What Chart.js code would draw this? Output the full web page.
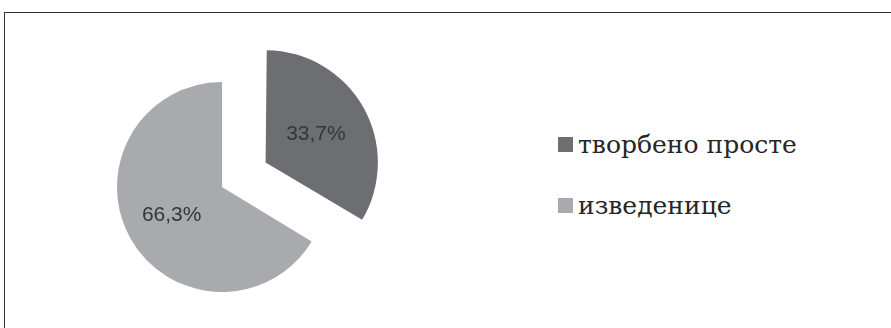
<!DOCTYPE html>
<html>
<head>
<meta charset="utf-8">
<script src="https://cdn.jsdelivr.net/npm/chart.js@4.4.1/dist/chart.umd.min.js"></script>
<style>
  html, body { margin: 0; padding: 0; background: #fff; overflow: hidden; }
  body { width: 891px; height: 328px; position: relative; }
  .frame { position: absolute; left: 4px; top: 12px; width: 900px; height: 330px; border-left: 1px solid #333; border-top: 1px solid #333; }
  .pie-wrap { position: absolute; left: 0; top: 0; width: 444px; height: 374px; }
  .legend { position: absolute; left: 558px; top: 114px; font-family: "DejaVu Serif", serif; font-size: 25px; color: #262626; }
  .legend div { display: flex; align-items: center; height: 61px; }
  .legend span.box { width: 15px; height: 15px; margin-right: 5px; }
</style>
</head>
<body>
<div class="frame"></div>
<div class="pie-wrap"><canvas id="pie" width="444" height="374"></canvas></div>
<div class="legend" id="legend"></div>
<script>
const labels = ['творбено просте', 'изведенице'];
const shares = [33.7, 66.3];
const sliceColors = ['#6d6e71', '#a9aaae'];

// percent labels drawn inside each slice, following the slice offset
const sliceLabels = {
  id: 'sliceLabels',
  afterDatasetsDraw(chart) {
    const ctx = chart.ctx;
    const meta = chart.getDatasetMeta(0);
    ctx.save();
    ctx.font = '21px "Liberation Sans", sans-serif';
    ctx.fillStyle = '#363636';
    ctx.textAlign = 'center';
    ctx.textBaseline = 'middle';
    meta.data.forEach((arc, i) => {
      const p = arc.getProps(['x', 'y', 'startAngle', 'endAngle', 'outerRadius']);
      const mid = (p.startAngle + p.endAngle) / 2;
      const shift = (arc.options.offset || 0) / 4;
      const r = p.outerRadius * 0.55 + shift;
      const text = shares[i].toFixed(1).replace('.', ',') + '%';
      ctx.fillText(text, p.x + Math.cos(mid) * r, p.y + Math.sin(mid) * r);
    });
    ctx.restore();
  }
};

const chart = new Chart(document.getElementById('pie'), {
  type: 'pie',
  data: {
    labels,
    datasets: [{
      data: shares,
      backgroundColor: sliceColors,
      borderWidth: 0,
      offset: [200, 0],
    }],
  },
  options: {
    responsive: false,
    animation: false,
    radius: 105,
    layout: { padding: 0 },
    plugins: {
      legend: { display: false },
      tooltip: { enabled: false },
    },
  },
  plugins: [sliceLabels],
});

const legend = document.getElementById('legend');
labels.forEach((name, i) => {
  const row = document.createElement('div');
  const box = document.createElement('span');
  box.className = 'box';
  box.style.background = sliceColors[i];
  row.appendChild(box);
  row.appendChild(document.createTextNode(name));
  legend.appendChild(row);
});
</script>
</body>
</html>
